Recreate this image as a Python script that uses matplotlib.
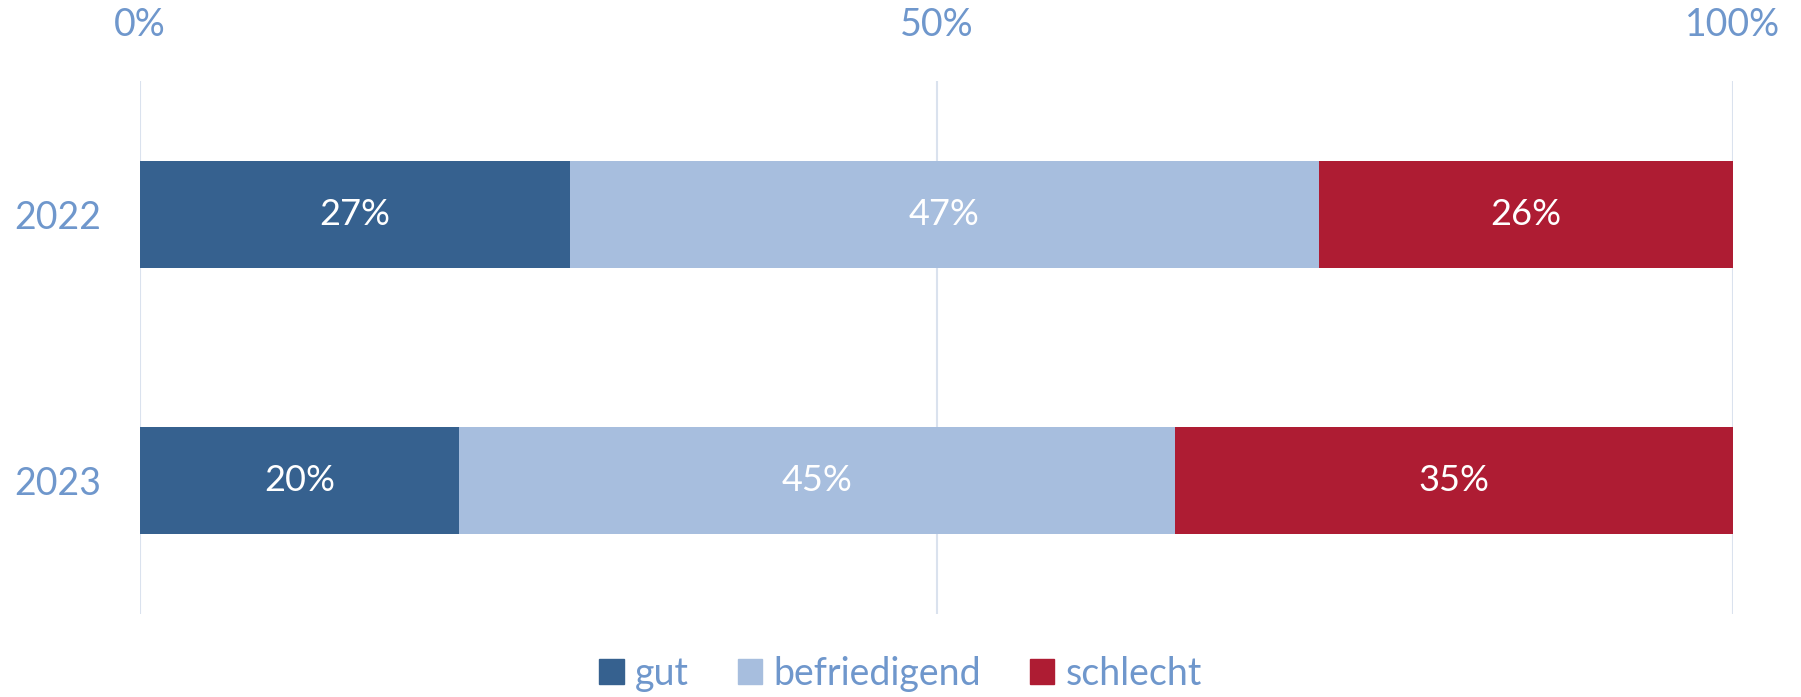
import matplotlib.pyplot as plt
from matplotlib.patches import Patch

plt.rcParams["font.family"] = ["Lato", "DejaVu Sans"]

years = ["2022", "2023"]
categories = ["gut", "befriedigend", "schlecht"]
shares = {
    "gut": [27, 20],
    "befriedigend": [47, 45],
    "schlecht": [26, 35],
}
colours = ["#36618f", "#a7bede", "#ae1c33"]
text_col = "#6f97cc"
grid_col = "#dae2ee"

fig = plt.figure(figsize=(18.01, 6.97), dpi=100)
ax = fig.add_axes([140 / 1801, 1 - 614 / 697, (1733 - 140) / 1801, (614 - 81) / 697])

ypos = list(range(len(years)))
left = [0.0] * len(years)
for cat, col in zip(categories, colours):
    vals = [v / 100 for v in shares[cat]]
    ax.barh(ypos, vals, left=left, height=0.40, color=col, edgecolor="none", zorder=2)
    for y, l, v, raw in zip(ypos, left, vals, shares[cat]):
        ax.text(l + v / 2, y, f"{raw}%", ha="center", va="center",
                color="white", fontsize=26, zorder=3)
    left = [a + b for a, b in zip(left, vals)]

ax.set_xlim(0, 1)
ax.set_ylim(1.5, -0.5)
ax.set_xticks([0, 0.5, 1])
ax.set_xticklabels(["0%", "50%", "100%"])
ax.xaxis.tick_top()
ax.set_yticks(ypos)
ax.set_yticklabels(years)
ax.tick_params(axis="both", length=0, labelcolor=text_col, labelsize=27)
ax.tick_params(axis="x", pad=27)
ax.tick_params(axis="y", pad=28)
ax.grid(axis="x", color=grid_col, lw=1.5, zorder=0)
for s in ax.spines.values():
    s.set_visible(False)

handles = [Patch(color=c, label=k) for k, c in zip(categories, colours)]
leg = fig.legend(handles=handles, loc="center", bbox_to_anchor=(0.5, 1 - 674 / 697),
                 ncol=3, frameon=False, fontsize=27, handlelength=0.65,
                 handleheight=0.65, handletextpad=0.3, columnspacing=1.3)
for t in leg.get_texts():
    t.set_color(text_col)

fig.savefig("out.png", dpi=100)
